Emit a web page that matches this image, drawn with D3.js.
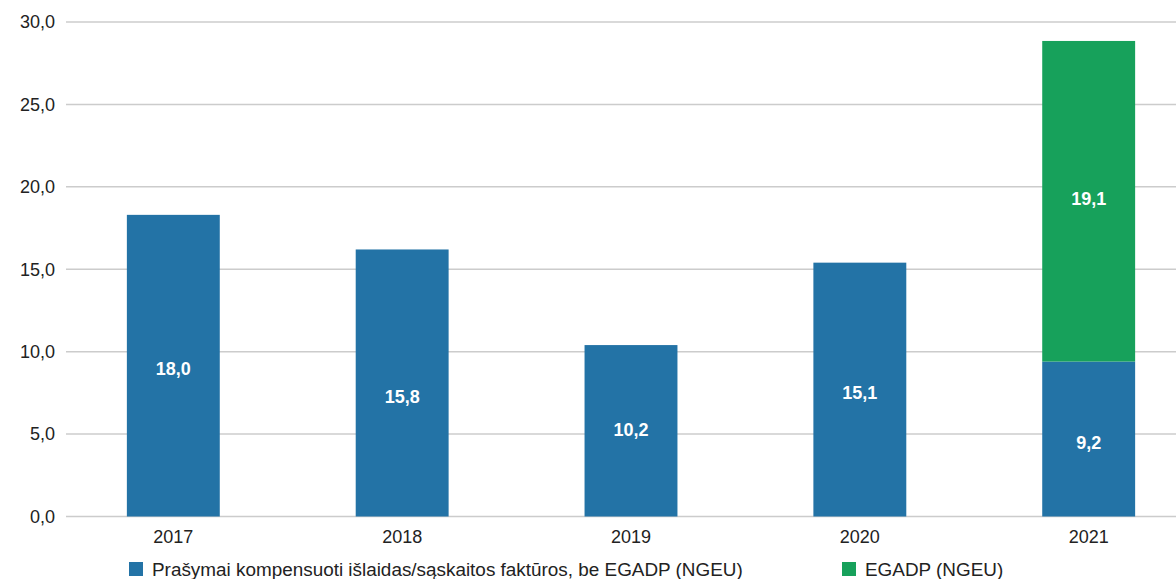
<!DOCTYPE html>
<html>
<head>
<meta charset="utf-8">
<script src="https://cdn.jsdelivr.net/npm/d3@7"></script>
<style>
  body { margin: 0; background: #fff; }
  text { font-family: "Liberation Sans", Arial, sans-serif; }
</style>
</head>
<body>
<div id="chart-area"></div>
<script>
const years = ["2017", "2018", "2019", "2020", "2021"]
// bar heights as drawn, and the labels printed on them
const blueValues = [18.3, 16.2, 10.4, 15.4, 9.4]
const greenValues = [0, 0, 0, 0, 19.45]
const blueLabels = ["18,0", "15,8", "10,2", "15,1", "9,2"]
const greenLabels = ["", "", "", "", "19,1"]
const yTicks = [0, 5, 10, 15, 20, 25, 30]
const seriesNames = ["Prašymai kompensuoti išlaidas/sąskaitos faktūros, be EGADP (NGEU)", "EGADP (NGEU)"]

const BLUE = "#2373a6"
const GREEN = "#17a15b"
const W = 1176, H = 579
// small vertical nudges of the value labels, in px
const blueNudge = [3, 14, -1.5, 3, 4]
const greenNudge = -3

const svg = d3.select("#chart-area")
  .append("svg")
    .attr("width", W)
    .attr("height", H)

const x = d3.scaleBand()
  .domain(years)
  .range([58.9, 1203.1])
  .paddingInner(0.594)
  .paddingOuter(0.297)

const y = d3.scaleLinear()
  .domain([0, 30])
  .range([516.5, 22])

// gridlines
svg.append("g")
  .selectAll("line")
  .data(yTicks)
  .enter().append("line")
    .attr("x1", 66)
    .attr("x2", W)
    .attr("y1", d => y(d))
    .attr("y2", d => y(d))
    .attr("stroke", "#cccccc")
    .attr("stroke-width", 1.5)

// y tick labels
svg.append("g")
  .selectAll("text")
  .data(yTicks)
  .enter().append("text")
    .attr("x", 55)
    .attr("y", d => y(d))
    .attr("dy", "0.35em")
    .attr("text-anchor", "end")
    .attr("font-size", "18px")
    .attr("fill", "#222")
    .text(d => d3.format(".1f")(d).replace(".", ","))

// blue bars
svg.append("g")
  .selectAll("rect")
  .data(years)
  .enter().append("rect")
    .attr("x", d => x(d))
    .attr("width", x.bandwidth())
    .attr("y", (d, i) => y(blueValues[i]))
    .attr("height", (d, i) => y(0) - y(blueValues[i]))
    .attr("fill", BLUE)

// green bars stacked on top
svg.append("g")
  .selectAll("rect")
  .data(years)
  .enter().append("rect")
    .attr("x", d => x(d))
    .attr("width", x.bandwidth())
    .attr("y", (d, i) => y(blueValues[i] + greenValues[i]))
    .attr("height", (d, i) => y(blueValues[i]) - y(blueValues[i] + greenValues[i]))
    .attr("fill", GREEN)

// value labels
svg.append("g")
  .selectAll("text")
  .data(years)
  .enter().append("text")
    .attr("x", d => x(d) + x.bandwidth() / 2)
    .attr("y", (d, i) => (y(0) + y(blueValues[i])) / 2 + blueNudge[i])
    .attr("dy", "0.35em")
    .attr("text-anchor", "middle")
    .attr("font-size", "18px")
    .attr("font-weight", "bold")
    .attr("fill", "#fff")
    .text((d, i) => blueLabels[i])

svg.append("g")
  .selectAll("text")
  .data(years)
  .enter().append("text")
    .attr("x", d => x(d) + x.bandwidth() / 2)
    .attr("y", (d, i) => (y(blueValues[i]) + y(blueValues[i] + greenValues[i])) / 2 + greenNudge)
    .attr("dy", "0.35em")
    .attr("text-anchor", "middle")
    .attr("font-size", "18px")
    .attr("font-weight", "bold")
    .attr("fill", "#fff")
    .text((d, i) => greenLabels[i])

// x axis labels
svg.append("g")
  .selectAll("text")
  .data(years)
  .enter().append("text")
    .attr("x", d => x(d) + x.bandwidth() / 2)
    .attr("y", 537)
    .attr("dy", "0.35em")
    .attr("text-anchor", "middle")
    .attr("font-size", "18px")
    .attr("fill", "#222")
    .text(d => d)

// legend
const legendX = [129, 842]
const legendColors = [BLUE, GREEN]
const legend = svg.append("g")
  .selectAll("g")
  .data(seriesNames)
  .enter().append("g")
    .attr("transform", (d, i) => `translate(${legendX[i]}, 562)`)
legend.append("rect")
  .attr("width", 14)
  .attr("height", 14)
  .attr("fill", (d, i) => legendColors[i])
legend.append("text")
  .attr("x", 23)
  .attr("y", 7.5)
  .attr("dy", "0.35em")
  .attr("font-size", "18.9px")
  .attr("fill", "#222")
  .text(d => d)
</script>
</body>
</html>
